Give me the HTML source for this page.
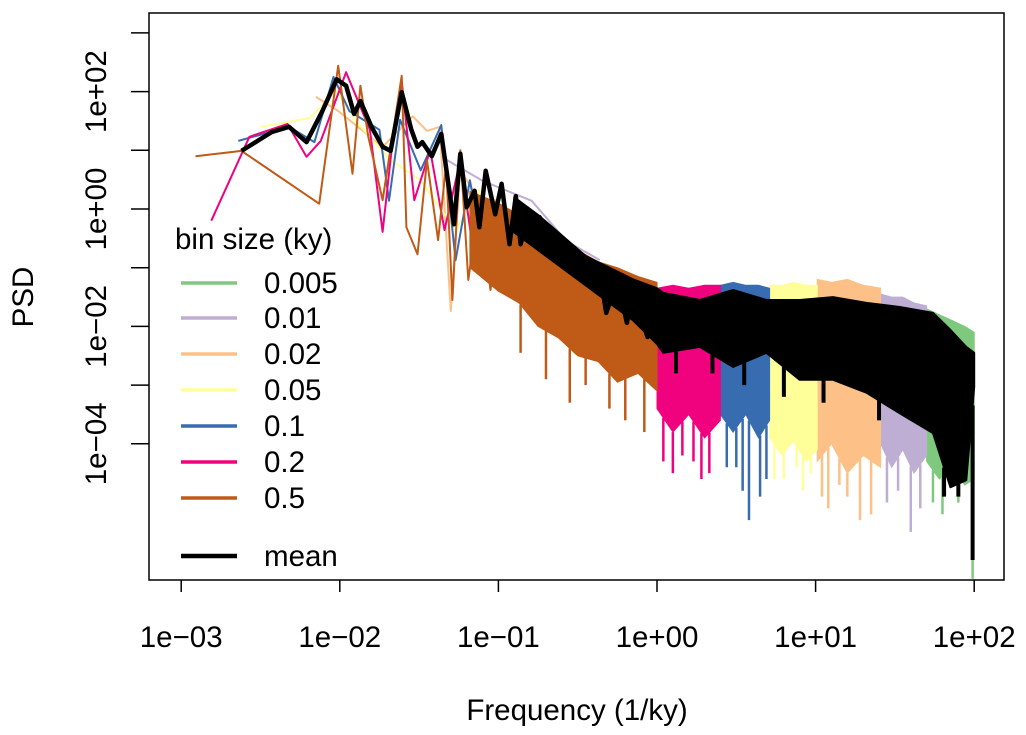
<!DOCTYPE html>
<html><head><meta charset="utf-8"><style>
html,body{margin:0;padding:0;background:#fff;}
svg{display:block;font-family:"Liberation Sans",Arial,sans-serif;}
</style></head><body>
<svg id="chart" width="1026" height="735" viewBox="0 0 1026 735" xmlns="http://www.w3.org/2000/svg"></svg>
<script>
// ---- data (log10 frequency, log10 PSD) ----
const xTickExp = [-3,-2,-1,0,1,2];
const xTickLabels = ["1e\u221203","1e\u221202","1e\u221201","1e+00","1e+01","1e+02"];
const yTickExp = [3,2,1,0,-1,-2,-3,-4];
const yTickLabels = ["","1e+02","","1e+00","","1e\u221202","","1e\u221204"];
const seriesNames = ["0.005","0.01","0.02","0.05","0.1","0.2","0.5"];
const seriesColors = ["#7fc97f","#beaed4","#fdc086","#ffff99","#386cb0","#f0027f","#bf5b17"];

// low-frequency lines per series
const greenF = [-1.13,-1.0,-0.7,-0.5];
const greenP = [-0.5,-0.5,-1.4,-2.1];
const purpleF = [-1.36,-1.10,-0.79,-0.57,-0.36];
const purpleP = [0.89,0.48,0.14,-0.55,-0.87];
const orangeF = [-2.15,-2.01,-1.73,-1.54,-1.45,-1.37,-1.30,-1.24,-1.12,-0.99];
const orangeP = [1.91,1.67,1.06,1.58,1.33,1.40,-1.74,0.66,0.15,0.15];
const yellowF = [-2.50,-2.19,-2.02,-1.90,-1.68,-1.49,-1.27,-1.12,-0.99];
const yellowP = [1.40,1.55,2.01,1.50,0.83,0.49,-0.36,0.32,-0.70];
const blueF = [-2.64,-2.32,-2.16,-2.04,-1.94,-1.75,-1.69,-1.62,-1.49,-1.36,-1.27,-1.18,-1.08,-0.99];
const blueP = [1.16,1.40,1.14,2.25,1.67,1.35,0.14,1.52,0.66,1.43,-0.87,0.49,-1.04,0.32];
const pinkF = [-2.81,-2.57,-2.33,-2.21,-2.12,-1.96,-1.81,-1.73,-1.66,-1.61,-1.53,-1.43,-1.34,-1.24,-1.15,-1.05,-0.99];
const pinkP = [-0.20,1.23,1.45,0.89,1.16,2.33,1.35,-0.39,1.33,2.18,0.15,1.0,-0.36,0.83,-0.87,0.15,-0.53];
const brownF = [-2.91,-2.62,-2.13,-2.01,-1.92,-1.87,-1.82,-1.73,-1.61,-1.58,-1.51,-1.45,-1.38,-1.33,-1.29,-1.24,-1.19,-1.12,-1.05,-0.99];
const brownP = [0.90,0.99,0.09,2.44,0.60,2.10,1.23,0.15,2.27,-0.31,-0.77,0.83,-0.53,0.75,-1.55,1.0,-1.21,0.15,-1.38,-0.02];

// dense (noise-filled) bands per series: frequency knots, upper and lower envelope
const greenBandF = [1.70,1.78,1.86,1.94,2.0];   const greenBandHi = [-1.7,-1.8,-1.9,-2.0,-2.1]; const greenBandLo = [-4.3,-4.6,-4.4,-4.7,-4.6];
const purpleBandF = [1.41,1.48,1.55,1.62,1.70]; const purpleBandHi = [-1.45,-1.5,-1.5,-1.6,-1.65]; const purpleBandLo = [-4.0,-4.4,-4.1,-4.5,-4.2];
const orangeBandF = [1.01,1.1,1.2,1.3,1.41];  const orangeBandHi = [-1.2,-1.25,-1.2,-1.3,-1.35]; const orangeBandLo = [-4.3,-4.0,-4.5,-4.2,-4.4];
const yellowBandF = [0.71,0.79,0.86,0.94,1.01]; const yellowBandHi = [-1.3,-1.3,-1.25,-1.3,-1.3]; const yellowBandLo = [-3.9,-4.2,-3.95,-4.3,-4.1];
const blueBandF = [0.40,0.48,0.56,0.64,0.71];   const blueBandHi = [-1.3,-1.25,-1.3,-1.3,-1.35]; const blueBandLo = [-3.5,-3.8,-3.5,-3.9,-3.6];
const pinkBandF = [0.0,0.1,0.2,0.3,0.40];     const pinkBandHi = [-1.35,-1.3,-1.35,-1.3,-1.3]; const pinkBandLo = [-3.4,-3.8,-3.5,-3.9,-3.6];
const brownBandF = [-1.18,-1.0,-0.87,-0.75,-0.62,-0.5,-0.37,-0.25,-0.12,0.0]; const brownBandHi = [0.3,0.1,-0.1,-0.3,-0.5,-0.7,-0.9,-1.0,-1.15,-1.25]; const brownBandLo = [-1.0,-1.4,-1.6,-2.0,-2.2,-2.5,-2.6,-2.95,-2.8,-3.1];

// deep spikes per series
const greenSpikeF = [1.74,1.80,1.90,1.99];      const greenSpikeP = [-5.0,-5.2,-5.0,-6.3];
const purpleSpikeF = [1.45,1.52,1.60,1.66]; const purpleSpikeP = [-5.0,-4.8,-5.5,-5.1];
const orangeSpikeF = [1.04,1.08,1.15,1.20,1.28,1.35]; const orangeSpikeP = [-4.9,-5.1,-4.7,-4.9,-5.3,-5.2];
const yellowSpikeF = [0.74,0.80,0.88,0.92,0.97];     const yellowSpikeP = [-4.6,-4.6,-4.4,-4.8,-4.5];
const blueSpikeF = [0.44,0.50,0.54,0.58,0.65,0.69];  const blueSpikeP = [-4.4,-4.4,-4.8,-5.3,-4.9,-4.6];
const pinkSpikeF = [0.04,0.10,0.16,0.23,0.28,0.33];  const pinkSpikeP = [-4.3,-4.5,-4.2,-4.3,-4.6,-4.5];
const brownSpikeF = [-0.86,-0.7,-0.55,-0.45,-0.3,-0.2,-0.08]; const brownSpikeP = [-2.45,-2.9,-3.3,-3.0,-3.4,-3.6,-3.8];

// mean spectrum
const meanF = [-2.62,-2.43,-2.32,-2.21,-2.11,-2.02,-1.96,-1.91,-1.87,-1.80,-1.73,-1.68,-1.61,-1.55,-1.51,-1.48,-1.42,-1.36,-1.30,-1.28,-1.24,-1.20,-1.15,-1.12,-1.08,-1.02,-0.98,-0.93,-0.89,-0.86,-0.81,-0.74,-0.67,-0.60,-0.53,-0.44,-0.36,-0.32,-0.25,-0.19,-0.15,-0.06,-0.04];
const meanP = [0.99,1.31,1.40,1.14,1.67,2.21,2.10,1.62,1.84,1.40,1.06,0.99,1.99,1.36,1.06,1.14,0.90,1.28,0.14,-0.26,0.94,0.03,0.31,-0.31,0.65,-0.09,0.43,-0.60,0.22,-0.60,-0.09,-0.14,-0.48,-0.89,-0.65,-1.09,-1.09,-1.77,-1.21,-1.94,-1.38,-2.18,-1.33];
const meanBandF = [-0.9,-0.75,-0.6,-0.45,-0.3,-0.15,0.0,0.04,0.27,0.48,0.69,0.90,1.11,1.32,1.53,1.74,1.85,1.95,2.0];
const meanBandHi = [0.2,-0.1,-0.45,-0.8,-1.0,-1.2,-1.35,-1.43,-1.55,-1.38,-1.55,-1.55,-1.50,-1.60,-1.67,-1.77,-2.06,-2.35,-2.45];
const meanBandLo = [-0.4,-0.7,-1.0,-1.3,-1.6,-1.9,-2.3,-2.45,-2.35,-2.69,-2.45,-2.91,-2.91,-3.13,-3.48,-3.82,-4.74,-4.62,-3.03];
const meanSpikeF = [0.12,0.35,0.55,0.8,1.05,1.4,1.81,1.9,1.99];
const meanSpikeP = [-2.8,-2.8,-3.0,-3.2,-3.3,-3.6,-4.9,-4.9,-5.98];

// ---- layout ----
const NS = "http://www.w3.org/2000/svg";
const svg = document.getElementById('chart');
const plot = {l:149, r:1004, t:13, b:580};
function xs(e){ return 657 + 158.6*e; }
function ys(e){ return 209 - 58.7*e; }
function mk(tag, attrs, parent){
  const el = document.createElementNS(NS, tag);
  for (const k in attrs) el.setAttribute(k, attrs[k]);
  (parent||svg).appendChild(el);
  return el;
}
const clip = mk('clipPath',{id:'pc'});
mk('rect',{x:plot.l,y:plot.t,width:plot.r-plot.l,height:plot.b-plot.t},clip);
const g = mk('g',{'clip-path':'url(#pc)'});



function linePts(F,P){ return F.map((f,i)=>xs(f).toFixed(1)+','+ys(P[i]).toFixed(1)).join(' '); }
function bandPts(F,H,L){
  const a = F.map((f,i)=>xs(f).toFixed(1)+','+ys(H[i]).toFixed(1));
  const b = F.map((f,i)=>xs(f).toFixed(1)+','+ys(L[i]).toFixed(1)).reverse();
  return a.concat(b).join(' ');
}
function lowAt(F,L,f){
  for (let i=0;i<F.length-1;i++){ if (f>=F[i] && f<=F[i+1]){ const t=(f-F[i])/(F[i+1]-F[i]); return L[i]+t*(L[i+1]-L[i]); } }
  return L[L.length-1];
}
const series = [
  [greenF,greenP,greenBandF,greenBandHi,greenBandLo,greenSpikeF,greenSpikeP,'series-0-005'],
  [purpleF,purpleP,purpleBandF,purpleBandHi,purpleBandLo,purpleSpikeF,purpleSpikeP,'series-0-01'],
  [orangeF,orangeP,orangeBandF,orangeBandHi,orangeBandLo,orangeSpikeF,orangeSpikeP,'series-0-02'],
  [yellowF,yellowP,yellowBandF,yellowBandHi,yellowBandLo,yellowSpikeF,yellowSpikeP,'series-0-05'],
  [blueF,blueP,blueBandF,blueBandHi,blueBandLo,blueSpikeF,blueSpikeP,'series-0-1'],
  [pinkF,pinkP,pinkBandF,pinkBandHi,pinkBandLo,pinkSpikeF,pinkSpikeP,'series-0-2'],
  [brownF,brownP,brownBandF,brownBandHi,brownBandLo,brownSpikeF,brownSpikeP,'series-0-5']
];
series.forEach((s,k)=>{
  const c = seriesColors[k];
  const sg = mk('g',{},g);
  
  
  const ln = mk('polyline',{points:linePts(s[0],s[1]),fill:'none',stroke:c,'stroke-width':2,'stroke-linejoin':'round'},sg);
  
  
  const bd = mk('polygon',{points:bandPts(s[2],s[3],s[4]),fill:c,stroke:c,'stroke-width':1},sg);
  
  
  s[5].forEach((f,i)=>{
    const sp = mk('line',{x1:xs(f),x2:xs(f),y1:ys(lowAt(s[2],s[4],f)),y2:ys(s[6][i]),stroke:c,'stroke-width':2.5},sg);
    
    
  });
});
// mean
const mg = mk('g',{},g);


const ml = mk('polyline',{points:linePts(meanF,meanP),fill:'none',stroke:'#000','stroke-width':4.5,'stroke-linejoin':'round'},mg);


const mb = mk('polygon',{points:bandPts(meanBandF,meanBandHi,meanBandLo),fill:'#000',stroke:'#000','stroke-width':2,'stroke-linejoin':'round'},mg);


meanSpikeF.forEach((f,i)=>{
  const sp = mk('line',{x1:xs(f),x2:xs(f),y1:ys(lowAt(meanBandF,meanBandLo,f)),y2:ys(meanSpikeP[i]),stroke:'#000','stroke-width':4},mg);
  
  
});

// frame
const fr = mk('rect',{x:plot.l,y:plot.t,width:plot.r-plot.l,height:plot.b-plot.t,fill:'none',stroke:'#000','stroke-width':1.5});


const FS = 29.5;
xTickExp.forEach((e,i)=>{
  const t = mk('line',{x1:xs(e),x2:xs(e),y1:plot.b,y2:plot.b+12,stroke:'#000','stroke-width':1.5});
  
  
  const tx = mk('text',{x:xs(e),y:647,'text-anchor':'middle','font-size':FS});
  tx.textContent = xTickLabels[i];
  
  
});
yTickExp.forEach((e,i)=>{
  const t = mk('line',{x1:plot.l-18,x2:plot.l,y1:ys(e),y2:ys(e),stroke:'#000','stroke-width':1.5});
  
  
  if (yTickLabels[i]){
    const tx = mk('text',{x:0,y:0,'text-anchor':'middle','font-size':FS,transform:'translate(106,'+ys(e)+') rotate(-90)'});
    tx.textContent = yTickLabels[i];
    
    
  }
});
const xt = mk('text',{x:577,y:720,'text-anchor':'middle','font-size':FS});
xt.textContent = 'Frequency (1/ky)';


const yt = mk('text',{x:0,y:0,'text-anchor':'middle','font-size':FS,transform:'translate(33,297) rotate(-90)'});
yt.textContent = 'PSD';



// legend
const lg = mk('g',{});


const lt = mk('text',{x:175,y:249,'font-size':FS},lg);
lt.textContent = 'bin size (ky)';


const legY = [283,318,354,390,426,462,498];
seriesNames.forEach((n,i)=>{
  const le = mk('g',{},lg);
  
  
  mk('line',{x1:181,x2:237,y1:legY[i],y2:legY[i],stroke:seriesColors[i],'stroke-width':3.5},le);
  const tx = mk('text',{x:264,y:legY[i]+10,'font-size':FS},le);
  tx.textContent = n;
});
const me = mk('g',{},lg);


mk('line',{x1:181,x2:237,y1:556,y2:556,stroke:'#000','stroke-width':4.5},me);
const mt = mk('text',{x:264,y:566,'font-size':FS},me);
mt.textContent = 'mean';
</script>
</body></html>
